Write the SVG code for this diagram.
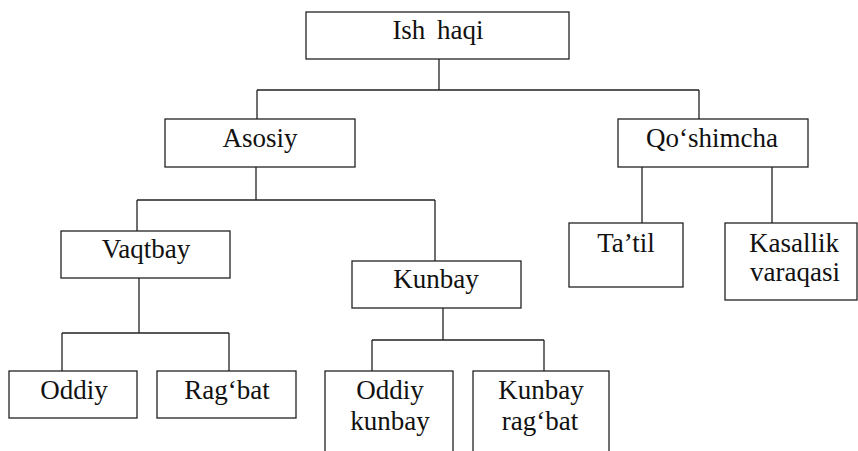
<svg xmlns="http://www.w3.org/2000/svg" width="858" height="451" viewBox="0 0 858 451">
  <style>
    .box { fill: #ffffff; stroke: #222222; stroke-width: 1.3; }
    .wire { fill: none; stroke: #222222; stroke-width: 1.3; }
    svg text, svg g text, svg .ntext { font-family: "Liberation Serif", "Times New Roman", serif !important; font-size: 27px; fill: #111111; text-anchor: middle; }
  </style>
  <rect width="858" height="451" fill="#ffffff"/>

  <!-- tree connectors -->
  <g id="connectors" class="wire">
    <path d="M439 59 V90 M257 90 H699 M257 90 V119 M699 90 V119"/>
    <path d="M256 167 V200 M137 200 H435 M137 200 V231 M435 200 V261"/>
    <path d="M139 278 V333 M62 333 H229 M62 333 V371 M229 333 V371"/>
    <path d="M443 308 V340 M372 340 H544 M372 340 V371 M544 340 V371"/>
    <path d="M642 167 V223 M772 167 V223"/>
  </g>

  <g id="ish-haqi">
    <rect class="box" x="306" y="12" width="263" height="47"/>
    <text class="ntext" style="font-family: 'Liberation Serif', serif !important" x="438" y="39" word-spacing="5">Ish haqi</text>
  </g>

  <g id="asosiy">
    <rect class="box" x="165" y="119" width="190" height="48"/>
    <text class="ntext" style="font-family: 'Liberation Serif', serif !important" x="260" y="147">Asosiy</text>
  </g>

  <g id="qoshimcha">
    <rect class="box" x="618" y="119" width="190" height="48"/>
    <text class="ntext" style="font-family: 'Liberation Serif', serif !important" x="712" y="147">Qo‘shimcha</text>
  </g>

  <g id="vaqtbay">
    <rect class="box" x="61" y="231" width="169" height="47"/>
    <text class="ntext" style="font-family: 'Liberation Serif', serif !important" x="146" y="258">Vaqtbay</text>
  </g>

  <g id="kunbay">
    <rect class="box" x="352" y="261" width="169" height="47"/>
    <text class="ntext" style="font-family: 'Liberation Serif', serif !important" x="436" y="288">Kunbay</text>
  </g>

  <g id="tatil">
    <rect class="box" x="569" y="223" width="114" height="64"/>
    <text class="ntext" style="font-family: 'Liberation Serif', serif !important" x="626" y="252">Ta’til</text>
  </g>

  <g id="kasallik-varaqasi">
    <rect class="box" x="725" y="223" width="132" height="77"/>
    <text class="ntext" style="font-family: 'Liberation Serif', serif !important" x="794" y="252">Kasallik</text>
    <text class="ntext" style="font-family: 'Liberation Serif', serif !important" x="795" y="281">varaqasi</text>
  </g>

  <g id="oddiy">
    <rect class="box" x="9" y="371" width="128" height="47"/>
    <text class="ntext" style="font-family: 'Liberation Serif', serif !important" x="74" y="399">Oddiy</text>
  </g>

  <g id="ragbat">
    <rect class="box" x="157" y="371" width="139" height="47"/>
    <text class="ntext" style="font-family: 'Liberation Serif', serif !important" x="227" y="399">Rag‘bat</text>
  </g>

  <g id="oddiy-kunbay">
    <rect class="box" x="325" y="371" width="128" height="95"/>
    <text class="ntext" style="font-family: 'Liberation Serif', serif !important" x="390" y="399">Oddiy</text>
    <text class="ntext" style="font-family: 'Liberation Serif', serif !important" x="390" y="430">kunbay</text>
  </g>

  <g id="kunbay-ragbat">
    <rect class="box" x="473" y="371" width="136" height="95"/>
    <text class="ntext" style="font-family: 'Liberation Serif', serif !important" x="541" y="399">Kunbay</text>
    <text class="ntext" style="font-family: 'Liberation Serif', serif !important" x="540" y="430">rag‘bat</text>
  </g>
</svg>
